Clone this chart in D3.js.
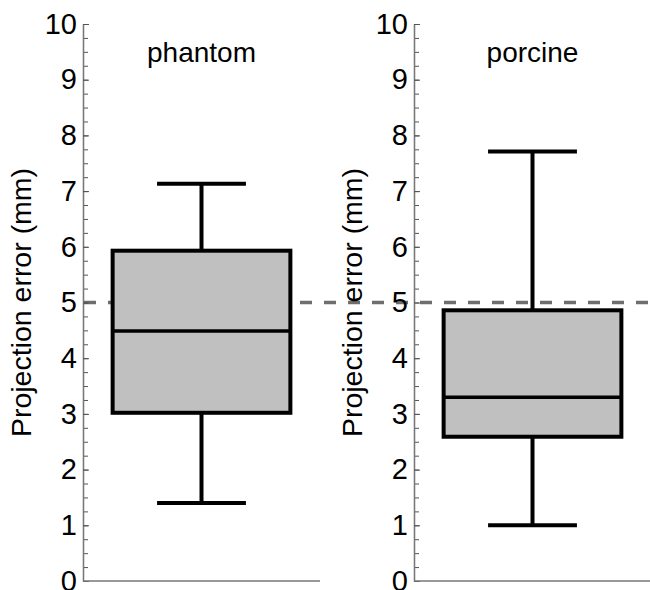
<!DOCTYPE html>
<head>
<meta charset="utf-8">
<script src="https://d3js.org/d3.v7.min.js"></script>
<style>
    body { margin: 0; background: #fff; }
    svg { display: block; font-family: "Liberation Sans", Arial, sans-serif; }
    .axis path.domain { stroke: #777; stroke-width: 1.3; }
    .axis line { stroke: #555; stroke-width: 1; }
    .axis text { font-size: 29px; fill: #000; font-family: "Liberation Sans", Arial, sans-serif; }
    .box { fill: #c0c0c0; stroke: #000; stroke-width: 4; }
    .whisker { stroke: #000; stroke-width: 4; }
    .median { stroke: #000; stroke-width: 3.5; }
</style>
</head>
<body>
<div id="chart"></div>
<script>
// box-plot values (mm)
var groups = ["phantom", "porcine"];
var lowWhisker = [1.40, 1.00];
var q1 = [3.02, 2.59];
var medians = [4.49, 3.30];
var q3 = [5.93, 4.86];
var highWhisker = [7.13, 7.71];
var threshold = 5;
var majorTicks = [0, 1, 2, 3, 4, 5, 6, 7, 8, 9, 10];
var minorTicks = d3.range(0, 10.01, 0.25);
var yLabel = "Projection error (mm)";

var width = 650, height = 590;
var yTop = 24, yBottom = 581;
var panels = [[83, 320], [414, 651]];

var svg = d3.select("#chart").append("svg")
    .attr("width", width)
    .attr("height", height);

var y = d3.scaleLinear().domain([0, 10]).range([yBottom, yTop]);

// dashed reference line runs under both panels
svg.append("line")
    .attr("x1", panels[0][0] + 1)
    .attr("x2", width)
    .attr("y1", y(threshold))
    .attr("y2", y(threshold))
    .attr("stroke", "#6e6e6e")
    .attr("stroke-width", 3.5)
    .attr("stroke-dasharray", "12,12");

groups.forEach(function (g, i) {
    var p = panels[i];
    var x = d3.scaleBand().domain([g]).range(p)
        .paddingInner(0).paddingOuter(1 / 6);
    var cx = x(g) + x.bandwidth() / 2;
    var bw = x.bandwidth();
    var capW = bw / 2;

    var panel = svg.append("g");

    // minor ticks
    panel.append("g")
        .attr("class", "axis")
        .attr("transform", "translate(" + p[0] + ",0)")
        .call(d3.axisLeft(y).tickValues(minorTicks).tickSize(-5).tickSizeOuter(0).tickFormat(""));

    panel.append("g")
        .attr("class", "axis")
        .attr("transform", "translate(" + p[0] + ",0)")
        .call(d3.axisLeft(y).tickValues(majorTicks).tickSizeInner(-6).tickSizeOuter(0).tickPadding(6));

    // bottom line
    panel.append("line")
        .attr("x1", p[0]).attr("x2", p[1])
        .attr("y1", y(0)).attr("y2", y(0))
        .attr("stroke", "#777").attr("stroke-width", 1.5);

    panel.append("text")
        .attr("transform", "translate(" + (p[0] - 52) + "," + ((yTop + yBottom) / 2) + ") rotate(-90)")
        .attr("text-anchor", "middle")
        .attr("font-size", 28.5)
        .text(yLabel);

    panel.append("text")
        .attr("x", cx)
        .attr("y", 62)
        .attr("text-anchor", "middle")
        .attr("font-size", 28)
        .text(g);

    // whiskers
    panel.append("line").attr("class", "whisker")
        .attr("x1", cx).attr("x2", cx)
        .attr("y1", y(lowWhisker[i])).attr("y2", y(highWhisker[i]));
    [lowWhisker[i], highWhisker[i]].forEach(function (v) {
        panel.append("line").attr("class", "whisker")
            .attr("x1", cx - capW / 2).attr("x2", cx + capW / 2)
            .attr("y1", y(v)).attr("y2", y(v));
    });

    panel.append("rect").attr("class", "box")
        .attr("x", x(g))
        .attr("y", y(q3[i]))
        .attr("width", bw)
        .attr("height", y(q1[i]) - y(q3[i]));

    panel.append("line").attr("class", "median")
        .attr("x1", x(g)).attr("x2", x(g) + bw)
        .attr("y1", y(medians[i])).attr("y2", y(medians[i]));
});
</script>
</body>
